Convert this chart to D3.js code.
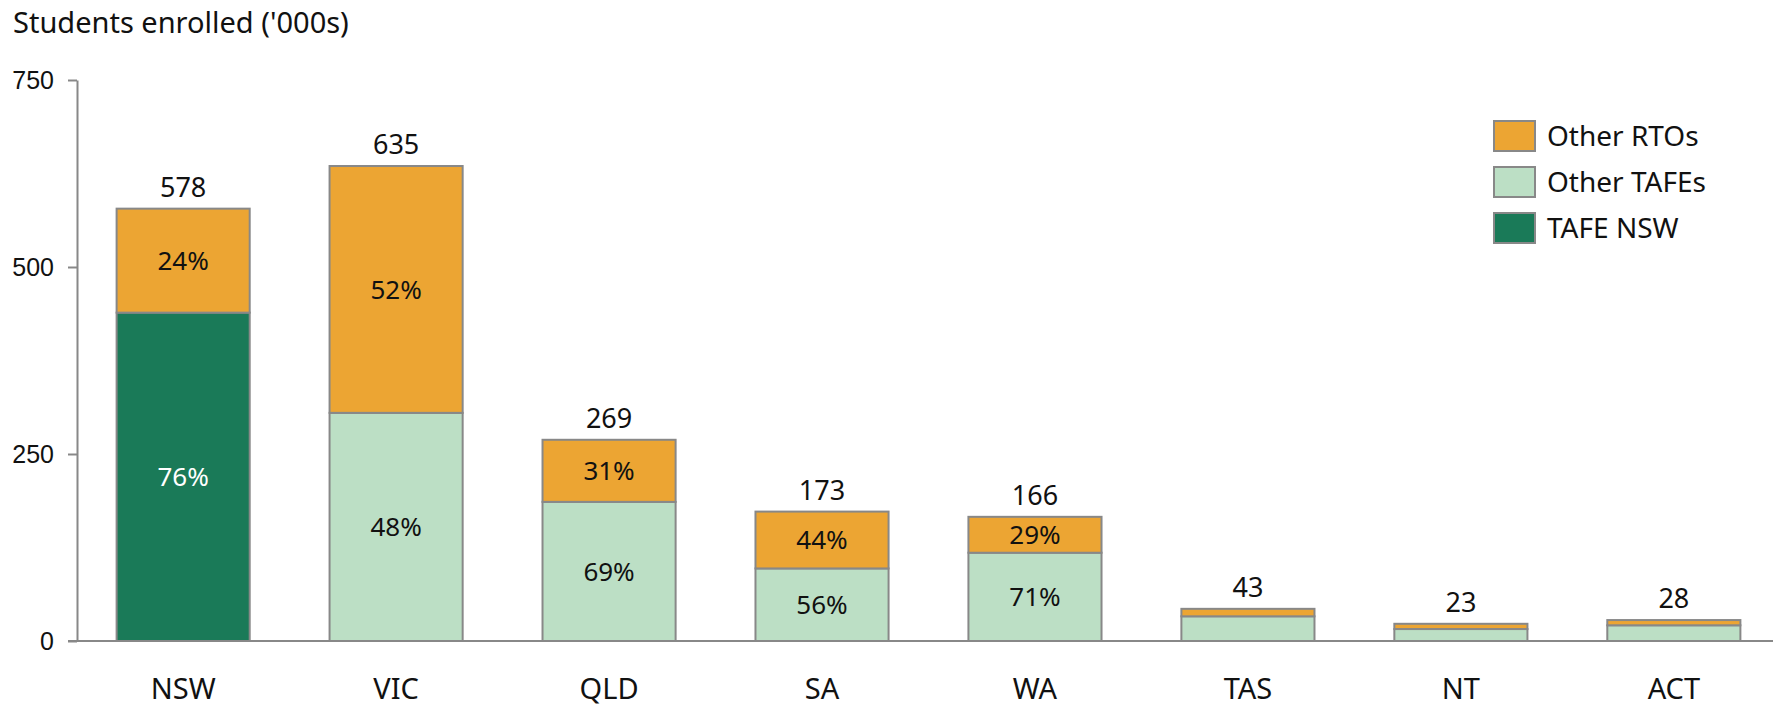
<!DOCTYPE html>
<html>
<head>
<meta charset="utf-8">
<script src="https://cdn.jsdelivr.net/npm/d3@7.9.0/dist/d3.min.js"></script>
<style>
  body { margin: 0; background: #fff; }
  svg { display: block; font-family: "Noto Sans", sans-serif; }
</style>
</head>
<body>
<svg id="chart" width="1773" height="707"></svg>
<script>
const states = ['NSW', 'VIC', 'QLD', 'SA', 'WA', 'TAS', 'NT', 'ACT'];

// '000s of students
const tafeNsw     = [439, 0, 0, 0, 0, 0, 0, 0];
const otherTafes  = [0, 305, 186, 97, 118, 33, 16, 21];
const otherRtos   = [139, 330, 83, 76, 48, 10, 7, 7];

const totals      = [578, 635, 269, 173, 166, 43, 23, 28];
const tafePct     = ['76%', '48%', '69%', '56%', '71%', '', '', ''];
const rtoPct      = ['24%', '52%', '31%', '44%', '29%', '', '', ''];

const yTicks = [0, 250, 500, 750];

const seriesNames = ['TAFE NSW', 'Other TAFEs', 'Other RTOs'];
const colors = { 'TAFE NSW': '#1a7a58', 'Other TAFEs': '#bcdfc5', 'Other RTOs': '#eca533' };

const rows = states.map((s, i) => ({
  state: s,
  'TAFE NSW': tafeNsw[i],
  'Other TAFEs': otherTafes[i],
  'Other RTOs': otherRtos[i]
}));

const svg = d3.select('#chart');

const x = d3.scaleBand()
  .domain(states)
  .range([77, 1780])
  .paddingInner(0.375)
  .paddingOuter(0.186);

const y = d3.scaleLinear().domain([0, 750]).range([641, 80]);

const stack = d3.stack().keys(seriesNames)(rows);

// y axis
const yAxis = svg.append('g')
  .attr('transform', 'translate(77,0)')
  .call(d3.axisLeft(y).tickValues(yTicks).tickSize(9).tickSizeOuter(0).tickPadding(14));
yAxis.select('.domain').attr('stroke', '#888').attr('stroke-width', 2);
yAxis.selectAll('.tick line').attr('stroke', '#888').attr('stroke-width', 2);
yAxis.selectAll('.tick text').attr('fill', '#111').style('font-size', '25px');

// bars
svg.append('g').selectAll('g')
  .data(stack)
  .join('g')
    .attr('fill', d => colors[d.key])
  .selectAll('rect')
  .data(d => d.filter(p => p[1] - p[0] > 0))
  .join('rect')
    .attr('x', d => x(d.data.state))
    .attr('y', d => y(d[1]))
    .attr('width', x.bandwidth())
    .attr('height', d => y(d[0]) - y(d[1]))
    .attr('stroke', '#888')
    .attr('stroke-width', 2);

// x axis baseline
svg.append('line')
  .attr('x1', 68).attr('x2', 1773)
  .attr('y1', y(0)).attr('y2', y(0))
  .attr('stroke', '#888').attr('stroke-width', 2);

// category labels
svg.append('g').selectAll('text')
  .data(states)
  .join('text')
    .attr('x', d => x(d) + x.bandwidth() / 2)
    .attr('y', 699)
    .attr('text-anchor', 'middle')
    .style('font-size', '29px')
    .attr('fill', '#111')
    .text(d => d);

// totals above bars
svg.append('g').selectAll('text')
  .data(rows)
  .join('text')
    .attr('x', d => x(d.state) + x.bandwidth() / 2)
    .attr('y', (d, i) => y(totals[i]) - 12)
    .attr('text-anchor', 'middle')
    .style('font-size', '27px')
    .attr('fill', '#111')
    .text((d, i) => totals[i]);

// percentage labels inside segments
const pctLabels = [];
rows.forEach((r, i) => {
  const tafeVal = r['TAFE NSW'] + r['Other TAFEs'];
  if (tafePct[i]) pctLabels.push({ state: r.state, lo: 0, hi: tafeVal, text: tafePct[i], white: r['TAFE NSW'] > 0 });
  if (rtoPct[i]) pctLabels.push({ state: r.state, lo: tafeVal, hi: tafeVal + r['Other RTOs'], text: rtoPct[i], white: false });
});

svg.append('g').selectAll('text')
  .data(pctLabels)
  .join('text')
    .attr('x', d => x(d.state) + x.bandwidth() / 2)
    .attr('y', d => (y(d.lo) + y(d.hi)) / 2)
    .attr('dy', '0.35em')
    .attr('text-anchor', 'middle')
    .style('font-size', '26px')
    .attr('fill', d => d.white ? '#fff' : '#111')
    .text(d => d.text);

// title
svg.append('text')
  .attr('x', 13).attr('y', 33)
  .style('font-size', '29px')
  .attr('fill', '#111')
  .text("Students enrolled ('000s)");

// legend
const legendKeys = ['Other RTOs', 'Other TAFEs', 'TAFE NSW'];
const legend = svg.append('g').attr('transform', 'translate(1494,121)')
  .selectAll('g')
  .data(legendKeys)
  .join('g')
    .attr('transform', (d, i) => `translate(0,${i * 46})`);
legend.append('rect')
  .attr('width', 41).attr('height', 30)
  .attr('fill', d => colors[d])
  .attr('stroke', '#888').attr('stroke-width', 2);
legend.append('text')
  .attr('x', 53).attr('y', 15).attr('dy', '0.35em')
  .style('font-size', '28px')
  .attr('fill', '#111')
  .text(d => d);
</script>
</body>
</html>
